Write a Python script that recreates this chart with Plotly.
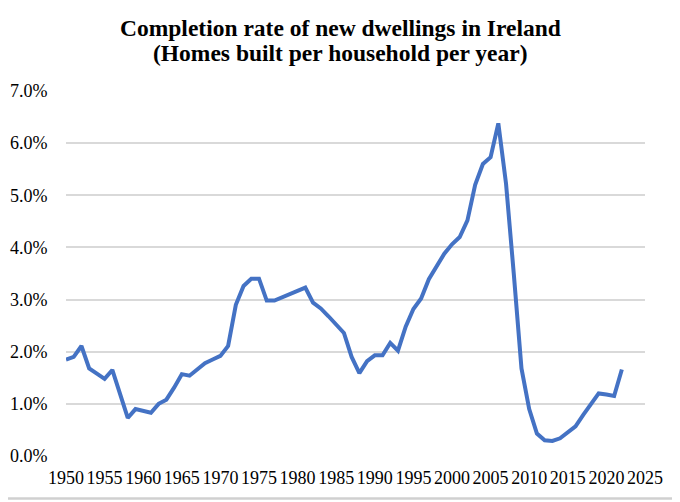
import plotly.graph_objects as go

years = list(range(1950, 2023))
rate_pct = [
    1.85, 1.90, 2.11, 1.68, 1.58, 1.48, 1.65, 1.16, 0.73, 0.90,   # 1950-1959
    0.87, 0.83, 1.00, 1.08, 1.31, 1.57, 1.54, 1.66, 1.78, 1.85,   # 1960-1969
    1.92, 2.11, 2.90, 3.26, 3.40, 3.40, 2.98, 2.98, 3.04, 3.11,   # 1970-1979
    3.18, 3.23, 2.94, 2.83, 2.68, 2.53, 2.36, 1.90, 1.59, 1.82,   # 1980-1989
    1.93, 1.93, 2.17, 2.02, 2.48, 2.82, 3.02, 3.39, 3.63, 3.88,   # 1990-1999
    4.06, 4.20, 4.52, 5.20, 5.60, 5.73, 6.38, 5.22, 3.50, 1.68,   # 2000-2009
    0.90, 0.43, 0.30, 0.29, 0.34, 0.45, 0.57, 0.79, 1.00, 1.20,   # 2010-2019
    1.18, 1.15, 1.66,                                             # 2020-2022
]
x_ticks = list(range(1950, 2026, 5))
y_ticks = [0, 1, 2, 3, 4, 5, 6, 7]

title_lines = ["Completion rate of new dwellings in Ireland",
               "(Homes built per household per year)"]

SERIF = "Palatino Linotype, Book Antiqua, Palatino, Liberation Serif, serif"

# The page body has an 8px default margin, so the figure is drawn 8px in
OFF = 8
W, H = 680 - OFF, 502 - OFF
L, R, T, B = 66 - OFF, 35, 91 - OFF, 46
pw, ph = W - L - R, H - T - B


def px2paper_x(px):
    return (px - OFF - L) / pw


def px2paper_y(py):
    return (H - B - (py - OFF)) / ph


fig = go.Figure()
fig.add_trace(go.Scatter(
    x=years, y=rate_pct, mode="lines",
    line=dict(color="#4472C4", width=4),
    hoverinfo="x+y", showlegend=False,
))

fig.update_layout(
    width=W, height=H,
    margin=dict(l=L, r=R, t=T, b=B, autoexpand=False),
    paper_bgcolor="white", plot_bgcolor="white",
    font=dict(family=SERIF, size=18, color="#000000"),
    xaxis=dict(
        range=[1950, 2025], tickmode="array", tickvals=x_ticks,
        ticktext=[str(v) for v in x_ticks],
        showgrid=False, zeroline=False, showline=False,
        ticks="outside", ticklen=5, tickcolor="rgba(0,0,0,0)",
        tickfont=dict(family=SERIF, size=18),
    ),
    yaxis=dict(
        range=[0, 7], tickmode="array", tickvals=y_ticks,
        ticktext=[f"{v:.1f}%" for v in y_ticks],
        showgrid=True, gridcolor="#d9d9d9", gridwidth=1.5,
        zeroline=False, showline=False,
        ticks="outside", ticklen=14, tickcolor="rgba(0,0,0,0)",
        tickfont=dict(family=SERIF, size=18),
    ),
)

# Title lines as annotations (page pixel centres 28 and 53)
for text, py in zip(title_lines, [28, 53]):
    fig.add_annotation(
        text=f"<b>{text}</b>", xref="paper", yref="paper",
        x=px2paper_x(340), y=px2paper_y(py),
        xanchor="center", yanchor="middle", showarrow=False,
        font=dict(family=SERIF, size=23.5, color="#000000"),
    )

# Chart-area border: right and bottom edges of the light grey frame
fig.add_shape(
    type="line", xref="paper", yref="paper",
    x0=px2paper_x(676.5), x1=px2paper_x(676.5),
    y0=px2paper_y(498.5), y1=px2paper_y(OFF),
    line=dict(color="#d0d0d0", width=2.5), layer="above",
)
fig.add_shape(
    type="line", xref="paper", yref="paper",
    x0=px2paper_x(OFF), x1=px2paper_x(676.5),
    y0=px2paper_y(498.5), y1=px2paper_y(498.5),
    line=dict(color="#d0d0d0", width=2.5), layer="above",
)

fig.write_html("out.html")
